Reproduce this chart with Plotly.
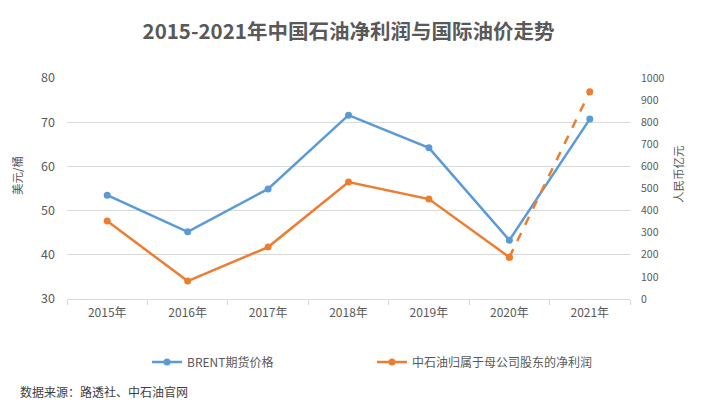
import plotly.graph_objects as go

years = ["2015年", "2016年", "2017年", "2018年", "2019年", "2020年", "2021年"]
brent = [53.5, 45.2, 54.9, 71.6, 64.2, 43.3, 70.7]
profit = [353, 81, 235, 529, 452, 189, 938]

blue = "#5b9bd5"
orange = "#ed7d31"
grid = "#d9d9d9"
txt = "#595959"
font = "Noto Sans CJK SC"

# page body has an 8px margin; figure coordinates are offset accordingly
W, H = 706, 406
PL, PR, PT, PB = 59, 622, 70, 291  # plot area in figure px
pw, ph = PR - PL, PB - PT


def px(x):
    return (x - 8 - PL) / pw


def py(y):
    return (PB - (y - 8)) / ph


fig = go.Figure()
fig.add_trace(go.Scatter(x=years, y=brent, name="BRENT期货价格", mode="lines+markers",
                         line=dict(color=blue, width=2.5), marker=dict(size=7, color=blue)))
fig.add_trace(go.Scatter(x=years[:6], y=profit[:6], name="中石油归属于母公司股东的净利润",
                         mode="lines+markers", yaxis="y2",
                         line=dict(color=orange, width=2.5), marker=dict(size=7, color=orange)))
fig.add_trace(go.Scatter(x=years[5:], y=profit[5:], showlegend=False, mode="lines+markers",
                         yaxis="y2", line=dict(color=orange, width=2.5, dash="dash"),
                         marker=dict(size=7, color=orange)))

fig.update_layout(
    width=W, height=H,
    margin=dict(l=PL, r=W - PR, t=PT, b=H - PB),
    paper_bgcolor="white", plot_bgcolor="white",
    font=dict(family=font, color=txt, size=11),
    title=dict(text="<b>2015-2021年中国石油净利润与国际油价走势</b>", x=0.5, xanchor="center",
               xref="paper", y=1 - 24 / H, yanchor="middle",
               font=dict(size=20.5, color=txt, family=font)),
    xaxis=dict(type="category", showgrid=False, showline=True, linecolor=grid, linewidth=1,
               ticks="outside", tickson="boundaries", ticklen=5, tickcolor=grid,
               tickfont=dict(size=12, color=txt), range=[-0.5, 6.5], automargin=False,
               ticklabelstandoff=3),
    yaxis=dict(range=[30, 80], dtick=10, showgrid=True, gridcolor=grid, gridwidth=1,
               zeroline=False, showline=False, ticks="", tickfont=dict(size=12.5, color=txt),
               automargin=False, ticklabelstandoff=11),
    yaxis2=dict(range=[0, 1000], dtick=100, overlaying="y", side="right", showgrid=False,
                zeroline=False, showline=False, ticks="", tickfont=dict(size=10.5, color=txt),
                automargin=False, ticklabelstandoff=10),
    legend=dict(orientation="h", x=px(147), xanchor="left", y=py(362), yanchor="middle",
                entrywidth=180, font=dict(size=12, color=txt), bgcolor="rgba(0,0,0,0)"),
    showlegend=True,
)

fig.add_annotation(text="美元/桶", xref="paper", yref="paper", x=px(17), y=py(176),
                   textangle=-90, showarrow=False, xanchor="center", yanchor="middle",
                   font=dict(size=11.5, color=txt, family=font))
fig.add_annotation(text="人民币亿元", xref="paper", yref="paper", x=px(678), y=py(174),
                   textangle=-90, showarrow=False, xanchor="center", yanchor="middle",
                   font=dict(size=11.5, color=txt, family=font))
fig.add_annotation(text="数据来源：路透社、中石油官网", xref="paper", yref="paper",
                   x=px(18), y=py(391), xanchor="left", yanchor="middle",
                   showarrow=False, font=dict(size=12, color="#404040", family=font))

fig.write_html("out.html")
